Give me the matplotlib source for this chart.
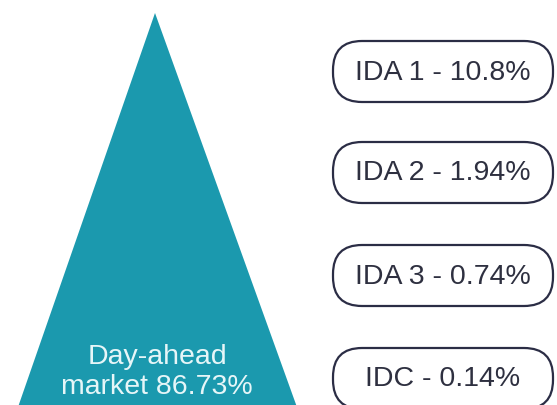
import matplotlib
matplotlib.use("Agg")
import matplotlib.pyplot as plt
from matplotlib.patches import Polygon, FancyBboxPatch

# Data
main_label = "Day-ahead\nmarket"
main_share = 86.73
labels = ["IDA 1", "IDA 2", "IDA 3", "IDC"]
shares = ["10.8", "1.94", "0.74", "0.14"]

W, H = 557, 405
fig = plt.figure(figsize=(W / 100, H / 100), dpi=100)
ax = fig.add_axes([0, 0, 1, 1])
ax.set_xlim(0, W)
ax.set_ylim(H, 0)
ax.axis("off")

teal = "#1b99ae"
# triangle layout
apex = (155, 13)
base_l, base_r, base_y = 17, 298, 410
ax.add_patch(Polygon([apex, (base_l, base_y), (base_r, base_y)], closed=True,
                     facecolor=teal, edgecolor="none"))
ax.text(157, 372, f"{main_label} {main_share}%", ha="center", va="center",
        color="#e6f6f8", fontsize=20.5, family="Liberation Sans",
        linespacing=1.15)

# boxes
bx, bw, bh = 333, 220, 61
tops = [41, 142, 245, 348]
for lab, sh, top in zip(labels, shares, tops):
    ax.add_patch(FancyBboxPatch((bx, top), bw, bh,
                                boxstyle="round,pad=0,rounding_size=29",
                                facecolor="white", edgecolor="#2b2d45",
                                linewidth=1.6))
    ax.text(bx + bw / 2, top + bh / 2 + 1, f"{lab} - {sh}%", ha="center",
            va="center", color="#2e3040", fontsize=20.5,
            family="Liberation Sans")

fig.savefig("out.png", dpi=100, facecolor="white")
